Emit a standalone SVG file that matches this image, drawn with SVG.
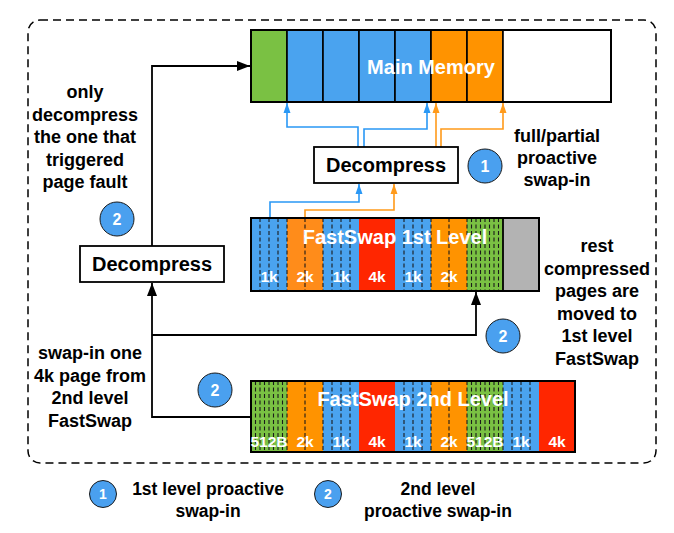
<svg xmlns="http://www.w3.org/2000/svg" width="674" height="533" viewBox="0 0 674 533">
<style>
text{font-family:"Liberation Sans",Arial,sans-serif;font-weight:bold;text-anchor:middle}
.t{font-size:18px;fill:#000}
.lab{font-size:15.5px;fill:#fff}
.title{font-size:20px;fill:#fff}
.box{fill:#fff;stroke:#000;stroke-width:1.8}
.cell{stroke:#000;stroke-width:1.6}
.g{fill:#7ac143}.b{fill:#4aa3ef}.o{fill:#ff9300}.o2{fill:#ff8c1a}.r{fill:#ff2600}.gr{fill:#b3b3b3}
.dl{stroke:#1a1a1a;stroke-width:1.1;stroke-dasharray:4 2.5}
.frame{fill:none;stroke:#000;stroke-width:2}
.badge{fill:#4aa0ef;stroke:#1a1a1a;stroke-width:1}
.bn{fill:#fff;font-size:16px}
.k{fill:none;stroke:#000;stroke-width:1.8}
.bl{fill:none;stroke:#2a98f5;stroke-width:1.6}
.or{fill:none;stroke:#ff9a1a;stroke-width:1.6}
</style>
<defs>
<marker id="ak" markerUnits="userSpaceOnUse" markerWidth="14" markerHeight="12" refX="13" refY="6" orient="auto"><path d="M0,1 L13,6 L0,11 Z" fill="#000"/></marker>
<marker id="ab" markerUnits="userSpaceOnUse" markerWidth="10" markerHeight="8" refX="10" refY="4" orient="auto"><path d="M0,0.5 L10,4 L0,7.5 Z" fill="#2a98f5"/></marker>
<marker id="ao" markerUnits="userSpaceOnUse" markerWidth="10" markerHeight="8" refX="10" refY="4" orient="auto"><path d="M0,0.5 L10,4 L0,7.5 Z" fill="#ff9a1a"/></marker>
</defs>
<rect width="674" height="533" fill="#fff"/>
<rect x="28" y="20" width="628" height="443" rx="12" fill="none" stroke="#000" stroke-width="1.5" stroke-dasharray="8 5"/>

<g id="connectors">
<path class="k" d="M152,246 V66 H250" marker-end="url(#ak)"/>
<path class="k" d="M251,417 H152 V283" marker-end="url(#ak)"/>
<path class="k" d="M152,335 H476 V292" marker-end="url(#ak)"/>
<path class="bl" d="M358,147 V127 H287 V103" marker-end="url(#ab)"/>
<path class="bl" d="M364,147 V129 H427 V103" marker-end="url(#ab)"/>
<path class="or" d="M436,147 V103" marker-end="url(#ao)"/>
<path class="or" d="M441,147 V129 H503 V103" marker-end="url(#ao)"/>
<path class="bl" d="M270,218 V202 H359 V184" marker-end="url(#ab)"/>
<path class="or" d="M305,218 V210 H394 V184" marker-end="url(#ao)"/>
</g>

<g id="main-memory">
<rect class="cell g" x="251" y="30" width="36" height="72"/>
<rect class="cell b" x="287" y="30" width="36" height="72"/>
<rect class="cell b" x="323" y="30" width="36" height="72"/>
<rect class="cell b" x="359" y="30" width="36" height="72"/>
<rect class="cell b" x="395" y="30" width="36" height="72"/>
<rect class="cell o" x="431" y="30" width="36" height="72"/>
<rect class="cell o" x="467" y="30" width="36" height="72"/>
<rect class="cell" fill="#fff" x="503" y="30" width="108" height="72"/>
<rect class="frame" x="251" y="30" width="360" height="72"/>
<text class="title" x="431" y="74">Main Memory</text>
</g>

<g id="decompress-right">
<rect class="box" x="314" y="147" width="144" height="36"/>
<text class="t" x="386" y="172" style="font-size:20px">Decompress</text>
</g>

<g id="decompress-left">
<rect class="box" x="80" y="246" width="144" height="36"/>
<text class="t" x="152" y="271" style="font-size:20px">Decompress</text>
</g>

<g id="fastswap-1">
<rect class="b" x="251" y="218" width="36" height="73"/>
<rect class="o2" x="287" y="218" width="36" height="73"/>
<rect class="b" x="323" y="218" width="36" height="73"/>
<rect class="r" x="359" y="218" width="36" height="73"/>
<rect class="b" x="395" y="218" width="36" height="73"/>
<rect class="o" x="431" y="218" width="36" height="73"/>
<rect class="g" x="467" y="218" width="36" height="73"/>
<rect class="gr" x="503" y="218" width="36" height="73"/>
<g class="dl">
<line x1="260" y1="218" x2="260" y2="291"/><line x1="269" y1="218" x2="269" y2="291"/><line x1="278" y1="218" x2="278" y2="291"/>
<line x1="287" y1="218" x2="287" y2="291"/><line x1="305" y1="218" x2="305" y2="291"/><line x1="323" y1="218" x2="323" y2="291"/>
<line x1="332" y1="218" x2="332" y2="291"/><line x1="341" y1="218" x2="341" y2="291"/><line x1="350" y1="218" x2="350" y2="291"/>
<line x1="404" y1="218" x2="404" y2="291"/><line x1="413" y1="218" x2="413" y2="291"/><line x1="422" y1="218" x2="422" y2="291"/>
<line x1="431" y1="218" x2="431" y2="291"/><line x1="449" y1="218" x2="449" y2="291"/><line x1="467" y1="218" x2="467" y2="291"/>
<line x1="471.5" y1="218" x2="471.5" y2="291"/><line x1="476" y1="218" x2="476" y2="291"/><line x1="480.5" y1="218" x2="480.5" y2="291"/><line x1="485" y1="218" x2="485" y2="291"/><line x1="489.5" y1="218" x2="489.5" y2="291"/><line x1="494" y1="218" x2="494" y2="291"/><line x1="498.5" y1="218" x2="498.5" y2="291"/>
</g>
<line x1="503" y1="218" x2="503" y2="291" stroke="#000" stroke-width="1.8"/>
<rect class="frame" x="251" y="218" width="288" height="73"/>
<text class="title" x="395" y="244">FastSwap 1st Level</text>
<text class="lab" x="269" y="282">1k</text><text class="lab" x="305" y="282">2k</text><text class="lab" x="341" y="282">1k</text><text class="lab" x="377" y="282">4k</text><text class="lab" x="413" y="282">1k</text><text class="lab" x="449" y="282">2k</text>
</g>

<g id="fastswap-2">
<rect class="g" x="251" y="381" width="36" height="71"/>
<rect class="o" x="287" y="381" width="36" height="71"/>
<rect class="b" x="323" y="381" width="36" height="71"/>
<rect class="r" x="359" y="381" width="36" height="71"/>
<rect class="b" x="395" y="381" width="36" height="71"/>
<rect class="o" x="431" y="381" width="36" height="71"/>
<rect class="g" x="467" y="381" width="36" height="71"/>
<rect class="b" x="503" y="381" width="36" height="71"/>
<rect class="r" x="539" y="381" width="36" height="71"/>
<g class="dl">
<line x1="255.5" y1="381" x2="255.5" y2="452"/><line x1="260" y1="381" x2="260" y2="452"/><line x1="264.5" y1="381" x2="264.5" y2="452"/><line x1="269" y1="381" x2="269" y2="452"/><line x1="273.5" y1="381" x2="273.5" y2="452"/><line x1="278" y1="381" x2="278" y2="452"/><line x1="282.5" y1="381" x2="282.5" y2="452"/>
<line x1="287" y1="381" x2="287" y2="452"/><line x1="305" y1="381" x2="305" y2="452"/><line x1="323" y1="381" x2="323" y2="452"/>
<line x1="332" y1="381" x2="332" y2="452"/><line x1="341" y1="381" x2="341" y2="452"/><line x1="350" y1="381" x2="350" y2="452"/>
<line x1="404" y1="381" x2="404" y2="452"/><line x1="413" y1="381" x2="413" y2="452"/><line x1="422" y1="381" x2="422" y2="452"/>
<line x1="431" y1="381" x2="431" y2="452"/><line x1="449" y1="381" x2="449" y2="452"/><line x1="467" y1="381" x2="467" y2="452"/>
<line x1="471.5" y1="381" x2="471.5" y2="452"/><line x1="476" y1="381" x2="476" y2="452"/><line x1="480.5" y1="381" x2="480.5" y2="452"/><line x1="485" y1="381" x2="485" y2="452"/><line x1="489.5" y1="381" x2="489.5" y2="452"/><line x1="494" y1="381" x2="494" y2="452"/><line x1="498.5" y1="381" x2="498.5" y2="452"/>
<line x1="503" y1="381" x2="503" y2="452"/><line x1="512" y1="381" x2="512" y2="452"/><line x1="521" y1="381" x2="521" y2="452"/><line x1="530" y1="381" x2="530" y2="452"/>
</g>
<rect class="frame" x="251" y="381" width="324" height="71"/>
<text class="title" x="413" y="406">FastSwap 2nd Level</text>
<text class="lab" x="269" y="447">512B</text><text class="lab" x="305" y="447">2k</text><text class="lab" x="341" y="447">1k</text><text class="lab" x="377" y="447">4k</text><text class="lab" x="413" y="447">1k</text><text class="lab" x="449" y="447">2k</text><text class="lab" x="485" y="447">512B</text><text class="lab" x="521" y="447">1k</text><text class="lab" x="557" y="447">4k</text>
</g>

<g id="badge-1">
<circle class="badge" cx="485" cy="166" r="17"/><text class="bn" x="485" y="171.5">1</text>
</g>
<g id="badge-2a">
<circle class="badge" cx="117" cy="219" r="17"/><text class="bn" x="117" y="224.5">2</text>
</g>
<g id="badge-2b">
<circle class="badge" cx="215" cy="390" r="17"/><text class="bn" x="215" y="395.5">2</text>
</g>
<g id="badge-2c">
<circle class="badge" cx="503" cy="336" r="17"/><text class="bn" x="503" y="341.5">2</text>
</g>

<g id="note-partial">
<text class="t" x="557" y="142">full/partial</text>
<text class="t" x="557" y="164">proactive</text>
<text class="t" x="557" y="186">swap-in</text>
</g>
<g id="note-only">
<text class="t" x="85" y="98">only</text>
<text class="t" x="85" y="120.5">decompress</text>
<text class="t" x="85" y="143">the one that</text>
<text class="t" x="85" y="165.5">triggered</text>
<text class="t" x="85" y="188">page fault</text>
</g>
<g id="note-swapin">
<text class="t" x="90" y="359">swap-in one</text>
<text class="t" x="90" y="381.5">4k page from</text>
<text class="t" x="90" y="404">2nd level</text>
<text class="t" x="90" y="426.5">FastSwap</text>
</g>
<g id="note-rest">
<text class="t" x="597" y="252">rest</text>
<text class="t" x="597" y="274.5">compressed</text>
<text class="t" x="597" y="297">pages are</text>
<text class="t" x="597" y="319.5">moved to</text>
<text class="t" x="597" y="342">1st level</text>
<text class="t" x="597" y="364.5">FastSwap</text>
</g>

<g id="legend">
<circle class="badge" cx="103" cy="494" r="13.5"/><text class="bn" x="103" y="499" style="font-size:14px">1</text>
<text class="t" x="208" y="495" style="font-size:17.5px">1st level proactive</text>
<text class="t" x="208" y="517" style="font-size:17.5px">swap-in</text>
<circle class="badge" cx="328" cy="494" r="13.5"/><text class="bn" x="328" y="499" style="font-size:14px">2</text>
<text class="t" x="438" y="495" style="font-size:17.5px">2nd level</text>
<text class="t" x="438" y="517" style="font-size:17.5px">proactive swap-in</text>
</g>
</svg>
